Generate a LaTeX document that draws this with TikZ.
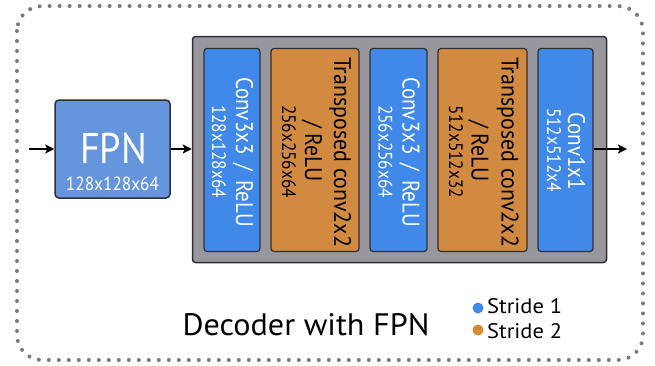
\documentclass[tikz,border=0pt]{standalone}
\usepackage{fontspec}
\setmainfont{PT Sans}
\usetikzlibrary{arrows.meta}
\pgfdeclarelayer{mid}
\pgfsetlayers{mid,main}
\definecolor{bblue}{HTML}{4189E8}
\definecolor{fblue}{HTML}{6595DD}
\definecolor{borange}{HTML}{D18A3F}
\definecolor{lorange}{HTML}{D98A35}
\definecolor{gbox}{HTML}{98979D}
\definecolor{edge}{HTML}{2F3033}
\definecolor{dotc}{HTML}{7A7A7A}
\tikzset{
  blk/.style={minimum height=203pt, rounded corners=3pt, draw=edge, line width=1.2pt, inner sep=0pt},
  bluebk/.style={blk, fill=bblue},
  orbk/.style={blk, fill=borange},
  vtxt/.style={rotate=-90, anchor=base, inner sep=0pt},
  conn/.style={line width=1.5pt, black},
  arr/.style={line width=2pt, black, -{Stealth[length=9pt,width=9pt,inset=2pt]}},
}
\newcommand{\fitw}[3]{\resizebox{#1}{\height}{\fontsize{#2}{#2}\selectfont #3}}
\newcommand{\bigw}[2]{\fitw{#1}{24pt}{#2}}
\newcommand{\smw}[2]{\fitw{#1}{19.5pt}{#2}}
\begin{document}
\begin{tikzpicture}[x=1pt,y=-1pt]
\useasboundingbox (0,0) rectangle (655,365);
% outer dotted frame
\draw[dotc, line width=4pt, line cap=round, dash pattern=on 0pt off 10pt, rounded corners=25pt] (17,6) rectangle (643,360);
% gray container
\node[draw=edge, fill=gbox, line width=1.5pt, rounded corners=3pt, minimum width=414pt, minimum height=226pt, inner sep=0pt] (gray) at (399.5,149.5) {};
% blocks
\node[bluebk, minimum width=56pt] (c1) at (232,150) {};
\node[orbk, minimum width=88pt] (t1) at (315,150) {};
\node[bluebk, minimum width=57pt] (c2) at (398.5,150) {};
\node[orbk, minimum width=89pt] (t2) at (482.5,150) {};
\node[bluebk, minimum width=55pt] (c3) at (565.5,150) {};
% block texts
\node[vtxt, text=white] (c1a) at (236,152) {\bigw{150pt}{Conv3x3\, /\, ReLU}};
\node[vtxt, text=white] (c1b) at (212,151.5) {\smw{93pt}{128x128x64}};
\node[vtxt] (t1a) at (334,152) {\bigw{190pt}{Transposed conv2x2}};
\node[vtxt] (t1b) at (305,151) {\bigw{62pt}{/ ReLU}};
\node[vtxt] (t1c) at (282,151.5) {\smw{93pt}{256x256x64}};
\node[vtxt, text=white] (c2a) at (402.5,152) {\bigw{150pt}{Conv3x3\, /\, ReLU}};
\node[vtxt, text=white] (c2b) at (378.5,151.5) {\smw{93pt}{256x256x64}};
\node[vtxt] (t2a) at (501.5,152) {\bigw{190pt}{Transposed conv2x2}};
\node[vtxt] (t2b) at (471.5,151) {\bigw{62pt}{/ ReLU}};
\node[vtxt] (t2c) at (449,151.5) {\smw{93pt}{512x512x32}};
\node[vtxt, text=white] (c3a) at (568,151) {\bigw{78pt}{Conv1x1}};
\node[vtxt, text=white] (c3b) at (547,150) {\smw{84pt}{512x512x4}};
% FPN box
\node[draw=edge, fill=fblue, line width=1.5pt, rounded corners=4pt, minimum width=115pt, minimum height=98pt, inner sep=0pt] (fpn) at (112.5,149) {};
\node[text=white, anchor=base, inner sep=0pt] (fpnt) at (113.5,163) {\fitw{67pt}{43pt}{FPN}};
\node[text=white, anchor=base, inner sep=0pt] (fpns) at (112.5,190) {\fitw{93pt}{19pt}{128x128x64}};
% connectors
\coordinate (in) at (29,149);
\coordinate (out) at (627,149);
\draw[arr] (in) -- (fpn.west);
\draw[arr] (fpn.east) -- (gray.west |- fpn.east);
\begin{pgfonlayer}{mid}
\draw[conn] (gray.west |- fpn.east) -- (c3.center |- fpn.east);
\end{pgfonlayer}
\draw[arr] (c3.east |- out) -- (out);
% title and legend
\node[anchor=base, inner sep=0pt] (title) at (306,335) {\fitw{247pt}{31pt}{Decoder with FPN}};
\node[circle, fill=bblue, minimum size=11pt, inner sep=0pt] (d1) at (478,308) {};
\node[circle, fill=lorange, minimum size=11pt, inner sep=0pt] (d2) at (478,330) {};
\node[anchor=base west, inner sep=0pt] (l1) at (487,313) {\fitw{75pt}{21pt}{Stride 1}};
\node[anchor=base west, inner sep=0pt] (l2) at (487,338) {\fitw{75pt}{21pt}{Stride 2}};
\end{tikzpicture}
\end{document}
